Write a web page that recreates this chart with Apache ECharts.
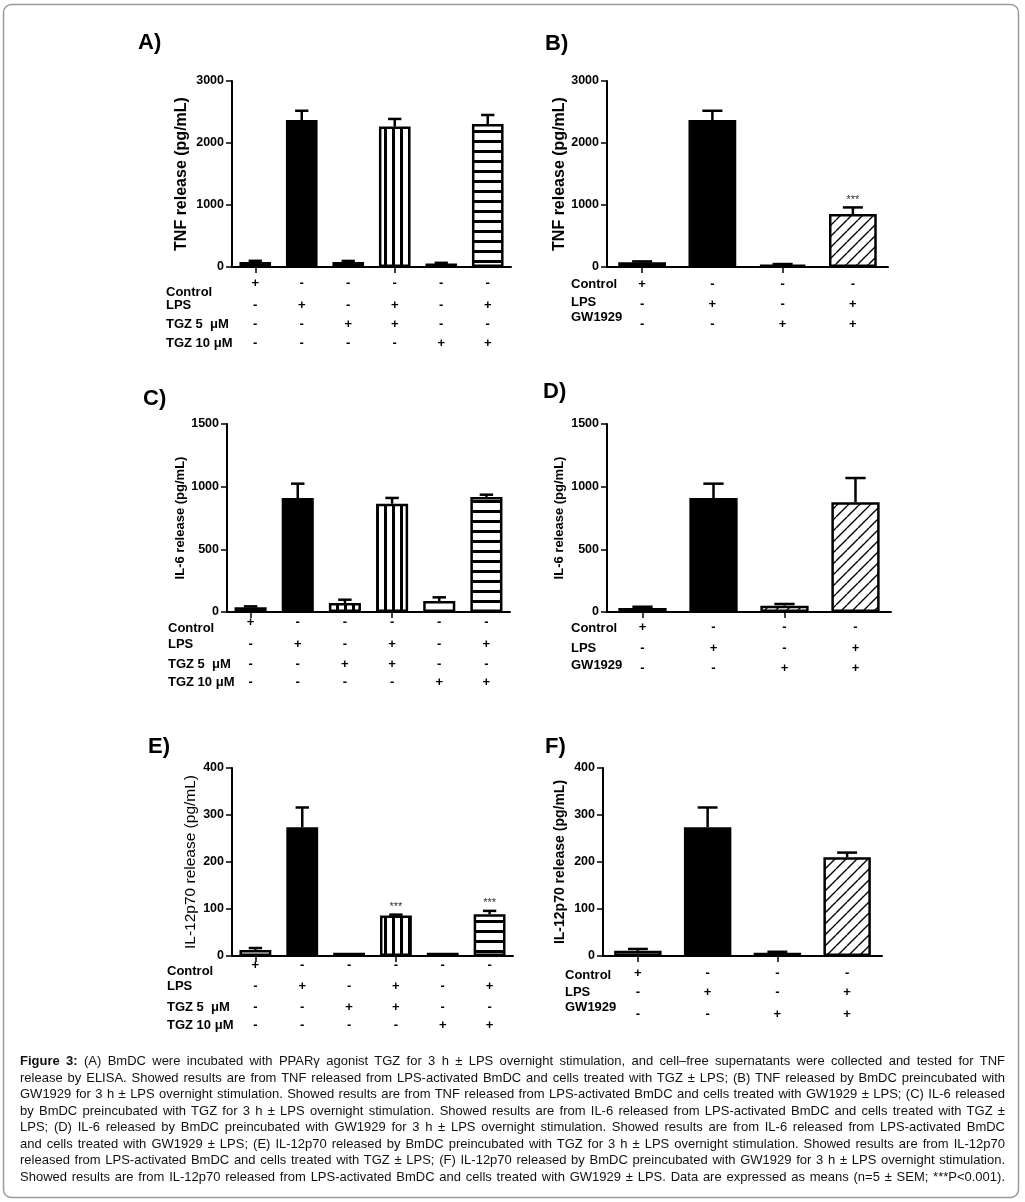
<!DOCTYPE html>
<html>
<head>
<meta charset="utf-8">
<script src="https://cdn.jsdelivr.net/npm/echarts@6/dist/echarts.min.js"></script>
<style>
html,body{margin:0;padding:0;background:#fff;}
#wrap{position:relative;width:1025px;height:1202px;overflow:hidden;}
#chart{position:absolute;left:0;top:0;width:1025px;height:1202px;}
#caption{position:absolute;left:20px;top:1053px;width:986px;font-family:"Liberation Sans",Arial,Helvetica,sans-serif;font-size:13px;line-height:16.5px;color:#111;}
#caption .ln{white-space:nowrap;height:16.5px;}
</style>
</head>
<body>
<div id="wrap">
<div id="chart"></div>
<div id="caption">
<div class="ln"><span><b>Figure 3:</b> (A) BmDC were incubated with PPARγ agonist TGZ for 3 h ± LPS overnight stimulation, and cell–free supernatants were collected and tested for TNF</span></div>
<div class="ln"><span>release by ELISA. Showed results are from TNF released from LPS-activated BmDC and cells treated with TGZ ± LPS; (B) TNF released by BmDC preincubated with</span></div>
<div class="ln"><span>GW1929 for 3 h ± LPS overnight stimulation. Showed results are from TNF released from LPS-activated BmDC and cells treated with GW1929 ± LPS; (C) IL-6 released</span></div>
<div class="ln"><span>by BmDC preincubated with TGZ for 3 h ± LPS overnight stimulation. Showed results are from IL-6 released from LPS-activated BmDC and cells treated with TGZ ±</span></div>
<div class="ln"><span>LPS; (D) IL-6 released by BmDC preincubated with GW1929 for 3 h ± LPS overnight stimulation. Showed results are from IL-6 released from LPS-activated BmDC</span></div>
<div class="ln"><span>and cells treated with GW1929 ± LPS; (E) IL-12p70 released by BmDC preincubated with TGZ for 3 h ± LPS overnight stimulation. Showed results are from IL-12p70</span></div>
<div class="ln"><span>released from LPS-activated BmDC and cells treated with TGZ ± LPS; (F) IL-12p70 released by BmDC preincubated with GW1929 for 3 h ± LPS overnight stimulation.</span></div>
<div class="ln"><span>Showed results are from IL-12p70 released from LPS-activated BmDC and cells treated with GW1929 ± LPS. Data are expressed as means (n=5 ± SEM; ***P&lt;0.001).</span></div>
</div>
</div>
<script>
// ---------------- DATA ----------------
const categoriesTGZ = ['Control', 'LPS', 'TGZ 5', 'LPS + TGZ 5', 'TGZ 10', 'LPS + TGZ 10'];
const categoriesGW = ['Control', 'LPS', 'GW1929', 'LPS + GW1929'];

// TNF (pg/mL)
const tnfTGZ = [80, 2370, 80, 2265, 55, 2305];
const tnfTGZErr = [20, 150, 18, 123, 12, 147];
const tnfGW = [75, 2370, 38, 853];
const tnfGWErr = [15, 150, 10, 108];
// IL-6 (pg/mL)
const il6TGZ = [37, 909, 72, 864, 88, 918];
const il6TGZErr = [8, 115, 26, 46, 29, 18];
const il6GW = [32, 909, 50, 875];
const il6GWErr = [10, 115, 14, 194];
// IL-12p70 (pg/mL)
const il12TGZ = [13, 274, 7, 86, 7, 89];
const il12TGZErr = [4, 42, 0, 2, 0, 7];
const il12GW = [11, 274, 7, 210];
const il12GWErr = [4, 42, 2, 10];

// significance marks
const sigTNFGW = ['', '', '', '***'];
const sigIL12TGZ = ['', '', '', '***', '', '***'];

// treatment table rows
const rowNamesTGZ = ['Control', 'LPS', 'TGZ 5  μM', 'TGZ 10 μM'];
const rowSignsTGZ = [
  ['+', '-', '-', '-', '-', '-'],
  ['-', '+', '-', '+', '-', '+'],
  ['-', '-', '+', '+', '-', '-'],
  ['-', '-', '-', '-', '+', '+']
];
const rowNamesGW = ['Control', 'LPS', 'GW1929'];
const rowSignsGW = [
  ['+', '-', '-', '-'],
  ['-', '+', '-', '+'],
  ['-', '-', '+', '+']
];

// axis scales
const tnfMax = 3000, tnfStep = 1000;
const il6Max = 1500, il6Step = 500;
const il12Max = 400, il12Step = 100;

// bar fills (style, kept separate from data)
const fillsTGZ = ['white', 'black', 'vstripe', 'vstripe', 'hstripe', 'hstripe'];
const fillsGW = ['white', 'black', 'hatch', 'hatch'];

// ---------------- STYLE / LAYOUT ----------------
const FONT = '"Liberation Sans", Arial, Helvetica, sans-serif';

function makePattern(kind) {
  const c = document.createElement('canvas');
  const ctx = c.getContext('2d');
  if (kind === 'v') {
    c.width = 8; c.height = 8;
    ctx.fillStyle = '#fff'; ctx.fillRect(0, 0, 8, 8);
    ctx.fillStyle = '#000'; ctx.fillRect(0, 0, 3, 8);
  } else if (kind === 'h') {
    c.width = 10; c.height = 10;
    ctx.fillStyle = '#fff'; ctx.fillRect(0, 0, 10, 10);
    ctx.fillStyle = '#000'; ctx.fillRect(0, 0, 10, 3);
  } else {
    const s = 11;
    c.width = s; c.height = s;
    ctx.fillStyle = '#fff'; ctx.fillRect(0, 0, s, s);
    ctx.strokeStyle = '#000'; ctx.lineWidth = 1.4;
    ctx.beginPath();
    for (const k of [-s, 0, s]) { ctx.moveTo(k, s); ctx.lineTo(k + s, 0); }
    ctx.stroke();
  }
  return { image: c, repeat: 'repeat' };
}
const fillStyles = {
  white: '#ffffff',
  black: '#000000',
  vstripe: makePattern('v'),
  hstripe: makePattern('h'),
  hatch: makePattern('d')
};

const panels = [
  { letter: 'A)', lx: 138, ly: 32, grid: { left: 232, top: 81, width: 279, height: 186 },
    cats: categoriesTGZ, vals: tnfTGZ, errs: tnfTGZErr, sig: null, max: tnfMax, step: tnfStep, fills: fillsTGZ,
    name: 'TNF release (pg/mL)', nameSize: 16, nameBold: 'bold', nameGap: 42,
    rowNames: rowNamesTGZ, rowSigns: rowSignsTGZ, signOff: [16, 38, 57, 76], labelYs: [292, 305, 324, 343], labelX: 166 },
  { letter: 'B)', lx: 545, ly: 33, grid: { left: 607, top: 81, width: 281, height: 186 },
    cats: categoriesGW, vals: tnfGW, errs: tnfGWErr, sig: sigTNFGW, max: tnfMax, step: tnfStep, fills: fillsGW,
    name: 'TNF release (pg/mL)', nameSize: 16, nameBold: 'bold', nameGap: 39,
    rowNames: rowNamesGW, rowSigns: rowSignsGW, signOff: [17, 37, 57], labelYs: [284, 302, 317], labelX: 571 },
  { letter: 'C)', lx: 143, ly: 388, grid: { left: 227, top: 424, width: 283, height: 188 },
    cats: categoriesTGZ, vals: il6TGZ, errs: il6TGZErr, sig: null, max: il6Max, step: il6Step, fills: fillsTGZ,
    name: 'IL-6 release (pg/mL)', nameSize: 13, nameBold: 'bold', nameGap: 35,
    rowNames: rowNamesTGZ, rowSigns: rowSignsTGZ, signOff: [10, 32, 52, 70], labelYs: [628, 644, 664, 682], labelX: 168 },
  { letter: 'D)', lx: 543, ly: 381, grid: { left: 607, top: 424, width: 284, height: 188 },
    cats: categoriesGW, vals: il6GW, errs: il6GWErr, sig: null, max: il6Max, step: il6Step, fills: fillsGW,
    name: 'IL-6 release (pg/mL)', nameSize: 13, nameBold: 'bold', nameGap: 41,
    rowNames: rowNamesGW, rowSigns: rowSignsGW, signOff: [15, 36, 56], labelYs: [628, 648, 665], labelX: 571 },
  { letter: 'E)', lx: 148, ly: 736, grid: { left: 232, top: 768, width: 281, height: 188 },
    cats: categoriesTGZ, vals: il12TGZ, errs: il12TGZErr, sig: sigIL12TGZ, max: il12Max, step: il12Step, fills: fillsTGZ,
    name: 'IL-12p70 release (pg/mL)', nameSize: 15.5, nameBold: 'normal', nameGap: 33,
    rowNames: rowNamesTGZ, rowSigns: rowSignsTGZ, signOff: [9, 30, 51, 69], labelYs: [971, 986, 1007, 1025], labelX: 167 },
  { letter: 'F)', lx: 545, ly: 736, grid: { left: 603, top: 768, width: 279, height: 188 },
    cats: categoriesGW, vals: il12GW, errs: il12GWErr, sig: null, max: il12Max, step: il12Step, fills: fillsGW,
    name: 'IL-12p70 release (pg/mL)', nameSize: 14, nameBold: 'bold', nameGap: 36,
    rowNames: rowNamesGW, rowSigns: rowSignsGW, signOff: [17, 36, 58], labelYs: [975, 992, 1007], labelX: 565 }
];

const grids = [], xAxes = [], yAxes = [], series = [], graphics = [];

graphics.push({
  type: 'rect', z: -10,
  shape: { x: 3.5, y: 4.5, width: 1015, height: 1193, r: 8 },
  style: { fill: 'none', stroke: '#9a9a9a', lineWidth: 1.5 }
});

panels.forEach((p, i) => {
  grids.push(Object.assign({ containLabel: false }, p.grid));
  const mainIdx = xAxes.length;
  xAxes.push({
    type: 'category', gridIndex: i, data: p.cats, boundaryGap: true,
    axisLine: { show: true, lineStyle: { color: '#000', width: 2 } },
    axisTick: { show: true, alignWithLabel: true, length: 6, lineStyle: { color: '#000', width: 1.5 } },
    axisLabel: { show: false }, splitLine: { show: false }
  });
  p.rowSigns.forEach((signs, r) => {
    xAxes.push({
      type: 'category', gridIndex: i, data: signs, position: 'bottom', offset: p.signOff[r],
      boundaryGap: true, silent: true,
      axisLine: { show: false }, axisTick: { show: false }, splitLine: { show: false },
      axisLabel: { show: true, interval: 0, margin: 0, verticalAlign: 'middle',
        fontFamily: FONT, fontSize: 13, fontWeight: 'bold', color: '#000' }
    });
  });
  yAxes.push({
    type: 'value', gridIndex: i, min: 0, max: p.max, interval: p.step,
    name: p.name, nameLocation: 'middle', nameGap: p.nameGap,
    nameTextStyle: { fontFamily: FONT, fontSize: p.nameSize, fontWeight: p.nameBold, color: '#000' },
    axisLine: { show: true, lineStyle: { color: '#000', width: 2 } },
    axisTick: { show: true, length: 6, lineStyle: { color: '#000', width: 1.5 } },
    axisLabel: { fontFamily: FONT, fontSize: 12.5, fontWeight: 'bold', color: '#000', margin: 8,
      formatter: v => String(v) },
    splitLine: { show: false }
  });
  series.push({
    type: 'bar', xAxisIndex: mainIdx, yAxisIndex: i, barWidth: '68%', silent: true,
    itemStyle: { borderColor: '#000', borderWidth: 2.5 },
    data: p.vals.map((v, j) => ({ value: v, itemStyle: { color: fillStyles[p.fills[j]] } }))
  });
  const sig = p.sig;
  series.push({
    type: 'custom', xAxisIndex: mainIdx, yAxisIndex: i, silent: true, clip: false, z: 5,
    data: p.vals.map((v, j) => [j, v, v + p.errs[j]]),
    encode: { x: 0, y: [1, 2] },
    renderItem: (params, api) => {
      const j = params.dataIndex;
      const x = api.value(0), v = api.value(1), t = api.value(2);
      const base = api.coord([x, v]);
      const top = api.coord([x, t]);
      const band = api.size([1, 0])[0];
      const cw = band * 0.68 * 0.42;
      const children = [];
      if (t > v) {
        children.push({ type: 'line', shape: { x1: base[0], y1: base[1], x2: top[0], y2: top[1] },
          style: { stroke: '#000', lineWidth: 2.5 } });
        children.push({ type: 'line', shape: { x1: top[0] - cw / 2, y1: top[1], x2: top[0] + cw / 2, y2: top[1] },
          style: { stroke: '#000', lineWidth: 2.5 } });
      }
      const s = sig ? sig[j] : '';
      if (s) {
        children.push({ type: 'text', x: top[0], y: top[1] - 2,
          style: { text: s, fill: '#333', fontFamily: FONT, fontSize: 11, align: 'center', verticalAlign: 'bottom' } });
      }
      return { type: 'group', children };
    }
  });
  graphics.push({
    type: 'text', x: p.lx, y: p.ly,
    style: { text: p.letter, fontFamily: FONT, fontSize: 22, fontWeight: 'bold', fill: '#000', align: 'left', verticalAlign: 'top' }
  });
  p.rowNames.forEach((nm, r) => {
    graphics.push({
      type: 'text', x: p.labelX, y: p.labelYs[r],
      style: { text: nm, fontFamily: FONT, fontSize: 13, fontWeight: 'bold', fill: '#000', align: 'left', verticalAlign: 'middle' }
    });
  });
});

const chart = echarts.init(document.getElementById('chart'), null, { renderer: 'canvas' });
chart.setOption({
  animation: false,
  backgroundColor: '#fff',
  grid: grids,
  xAxis: xAxes,
  yAxis: yAxes,
  series: series,
  graphic: graphics
});

// justify caption lines
document.querySelectorAll('#caption .ln').forEach(div => {
  const span = div.querySelector('span');
  const w = span.getBoundingClientRect().width;
  const spaces = (span.textContent.match(/ /g) || []).length;
  const target = 985;
  if (spaces > 0) span.style.wordSpacing = ((target - w) / spaces) + 'px';
});
</script>
</body>
</html>
